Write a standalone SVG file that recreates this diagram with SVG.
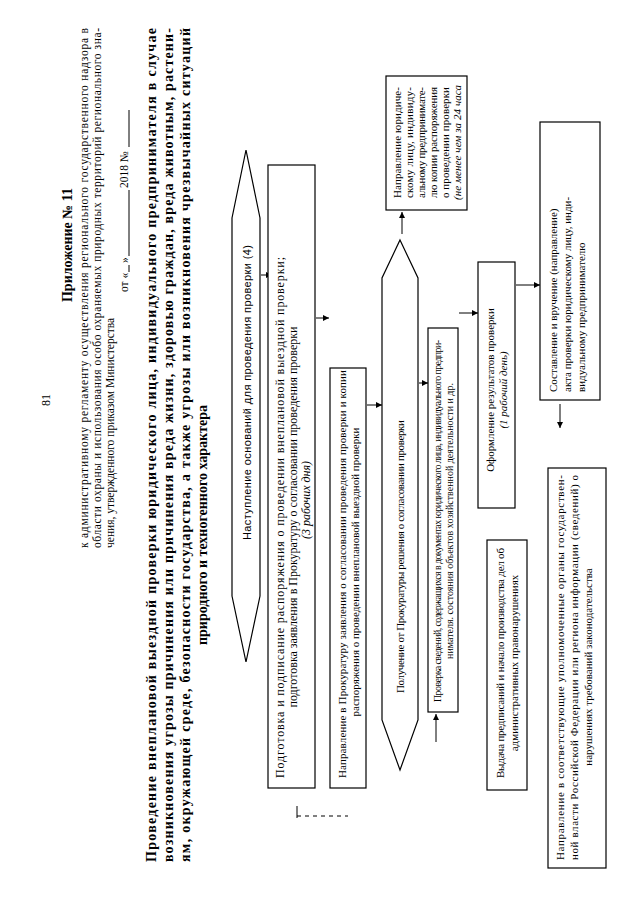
<svg xmlns="http://www.w3.org/2000/svg" width="640" height="905" viewBox="0 0 640 905">
<defs>
<style>
.t{font-family:"Liberation Serif","Times New Roman",serif;fill:#000}
.s{font-family:"Liberation Sans",Arial,sans-serif;fill:#000}
.b{font-weight:bold}
.i{font-style:italic}
.box{fill:#fff;stroke:#000;stroke-width:1.2}
.ln{fill:none;stroke:#000;stroke-width:1}
</style>
<marker id="ah" viewBox="0 0 10 10" refX="10" refY="5" markerWidth="6" markerHeight="6" orient="auto"><path d="M0,0 L10,5 L0,10 z" fill="#000"/></marker>
</defs>
<rect x="0" y="0" width="640" height="905" fill="#fff"/>
<g id="header">
<text class="t" font-size="12" text-anchor="middle" transform="translate(50,400) rotate(-90)">81</text>
<text class="t b" font-size="14" text-anchor="middle" transform="translate(72,245) rotate(-90)">Приложение № 11</text>
<text class="t" font-size="11.5" textLength="520" lengthAdjust="spacing" transform="translate(88,548) rotate(-90)">к административному регламенту осуществления регионального государственного надзора в</text>
<text class="t" font-size="11.5" textLength="520" lengthAdjust="spacing" transform="translate(101,548) rotate(-90)">области охраны и использования особо охраняемых природных территорий регионального зна-</text>
<text class="t" font-size="11.5" transform="translate(114,548) rotate(-90)">чения, утвержденного приказом Министерства</text>
<text class="t" font-size="11.5" transform="translate(128,292) rotate(-90)">от «</text>
<text class="t" font-size="11.5" transform="translate(128,263) rotate(-90)">»</text>
<text class="t" font-size="11.5" transform="translate(128,188) rotate(-90)">2018 №</text>
<path class="ln" d="M129,272 V265 M129,256 V190 M129,147 V110"/>
</g>
<g id="title">
<text class="t b" font-size="14" textLength="834" lengthAdjust="spacing" transform="translate(156,862) rotate(-90)">Проведение внеплановой выездной проверки юридического лица, индивидуального предпринимателя в случае</text>
<text class="t b" font-size="14" textLength="834" lengthAdjust="spacing" transform="translate(173,862) rotate(-90)">возникновения угрозы причинения или причинения вреда жизни, здоровью граждан, вреда животным, растени-</text>
<text class="t b" font-size="14" textLength="834" lengthAdjust="spacing" transform="translate(190,862) rotate(-90)">ям, окружающей среде, безопасности государства, а также угрозы или возникновения чрезвычайных ситуаций</text>
<text class="t b" font-size="14" transform="translate(207,645) rotate(-90)">природного и техногенного характера</text>
</g>
<g id="connectors">
<line class="ln" x1="261" y1="275" x2="272" y2="275" marker-end="url(#ah)"/>
<line class="ln" x1="316" y1="318" x2="329" y2="318" marker-end="url(#ah)"/>
<line class="ln" x1="367" y1="405" x2="382" y2="405" marker-end="url(#ah)"/>
<line class="ln" x1="402" y1="234" x2="402" y2="212" marker-end="url(#ah)"/>
<line class="ln" x1="419" y1="383" x2="428" y2="383" marker-end="url(#ah)"/>
<line class="ln" x1="459" y1="313" x2="478" y2="313" marker-end="url(#ah)"/>
<line class="ln" x1="516" y1="285" x2="540" y2="285" marker-end="url(#ah)"/>
<line class="ln" x1="560" y1="404" x2="560" y2="428" marker-end="url(#ah)"/>
<line class="ln" x1="436" y1="742" x2="436" y2="714" marker-end="url(#ah)"/>
<path class="ln" d="M297,806 V818"/>
<path class="ln" d="M297,816 H348" stroke-dasharray="4 4"/>
</g>
<g id="n1">
<polygon class="box" points="246,150 260,218 260,596 246,662 232,596 232,218"/>
<text class="s" font-size="11" textLength="295" lengthAdjust="spacing" transform="translate(251,540) rotate(-90)">Наступление оснований для проведения проверки (4)</text>
</g>
<g id="n2">
<rect class="box" x="268" y="165" width="47" height="623"/>
<text class="t" font-size="12" textLength="521" lengthAdjust="spacing" transform="translate(284,778) rotate(-90)">Подготовка и подписание распоряжения о проведении внеплановой выездной проверки;</text>
<text class="t" font-size="12" text-anchor="middle" transform="translate(297,517) rotate(-90)">подготовка заявления в Прокуратуру о согласовании проведения проверки</text>
<text class="t i" font-size="12" text-anchor="middle" transform="translate(310,500) rotate(-90)">(3 рабочих дня)</text>
</g>
<g id="n3">
<rect class="box" x="330" y="368" width="36" height="420"/>
<text class="t" font-size="11" textLength="408" lengthAdjust="spacing" transform="translate(346,778) rotate(-90)">Направление в Прокуратуру заявления о согласовании проведения проверки и копии</text>
<text class="t" font-size="11" text-anchor="middle" transform="translate(359,572) rotate(-90)">распоряжения о проведении внеплановой выездной проверки</text>
</g>
<g id="n4">
<polygon class="box" points="400,240 418,278 418,720 400,770 382,720 382,278"/>
<text class="t" font-size="11" textLength="273" lengthAdjust="spacing" transform="translate(404,693) rotate(-90)">Получение от Прокуратуры решения о согласовании проверки</text>
</g>
<g id="n5">
<rect class="box" x="386" y="76" width="81" height="134"/>
<text class="t" font-size="11" textLength="111" lengthAdjust="spacing" transform="translate(401,198) rotate(-90)">Направление юридиче-</text>
<text class="t" font-size="11" textLength="111" lengthAdjust="spacing" transform="translate(413,198) rotate(-90)">скому лицу, индивиду-</text>
<text class="t" font-size="11" textLength="111" lengthAdjust="spacing" transform="translate(425,198) rotate(-90)">альному предпринимате-</text>
<text class="t" font-size="11" textLength="111" lengthAdjust="spacing" transform="translate(437,198) rotate(-90)">лю копии распоряжения</text>
<text class="t" font-size="11" textLength="111" lengthAdjust="spacing" transform="translate(449,198) rotate(-90)">о проведении проверки</text>
<text class="t i" font-size="11" textLength="115" lengthAdjust="spacing" transform="translate(461,200) rotate(-90)">(не менее чем за 24 часа</text>
</g>
<g id="n6">
<rect class="box" x="428" y="328" width="30" height="384"/>
<text class="t" font-size="10" textLength="362" lengthAdjust="spacing" transform="translate(441,702) rotate(-90)">Проверка сведений, содержащихся в документах юридического лица, индивидуального предпри-</text>
<text class="t" font-size="10" text-anchor="middle" transform="translate(453,521) rotate(-90)">нимателя. состояния объектов хозяйственной деятельности и др.</text>
</g>
<g id="n7">
<rect class="box" x="478" y="262" width="37" height="246"/>
<text class="t" font-size="11" text-anchor="middle" transform="translate(494,390) rotate(-90)">Оформление результатов проверки</text>
<text class="t i" font-size="11" text-anchor="middle" transform="translate(507,390) rotate(-90)">(1 рабочий день)</text>
</g>
<g id="n8">
<rect class="box" x="487" y="540" width="40" height="250"/>
<text class="t" font-size="11" textLength="230" lengthAdjust="spacing" transform="translate(504,778) rotate(-90)">Выдача предписаний и начало производства дел об</text>
<text class="t" font-size="11" text-anchor="middle" transform="translate(518,663) rotate(-90)">административных правонарушениях</text>
</g>
<g id="n9">
<rect class="box" x="540" y="122" width="60" height="278"/>
<text class="t" font-size="11" transform="translate(557,392) rotate(-90)">Составление и вручение (направление)</text>
<text class="t" font-size="11" transform="translate(571,392) rotate(-90)">акта проверки юридическому лицу, инди-</text>
<text class="t" font-size="11" transform="translate(585,392) rotate(-90)">видуальному предпринимателю</text>
</g>
<g id="n10">
<rect class="box" x="548" y="468" width="58" height="400"/>
<text class="t" font-size="11" textLength="385" lengthAdjust="spacing" transform="translate(564,860) rotate(-90)">Направление в соответствующие уполномоченные органы государствен-</text>
<text class="t" font-size="11" textLength="385" lengthAdjust="spacing" transform="translate(578,860) rotate(-90)">ной власти Российской Федерации или региона информации (сведений) о</text>
<text class="t" font-size="11" text-anchor="middle" transform="translate(592,667) rotate(-90)">нарушениях требований законодательства</text>
</g>
</svg>
